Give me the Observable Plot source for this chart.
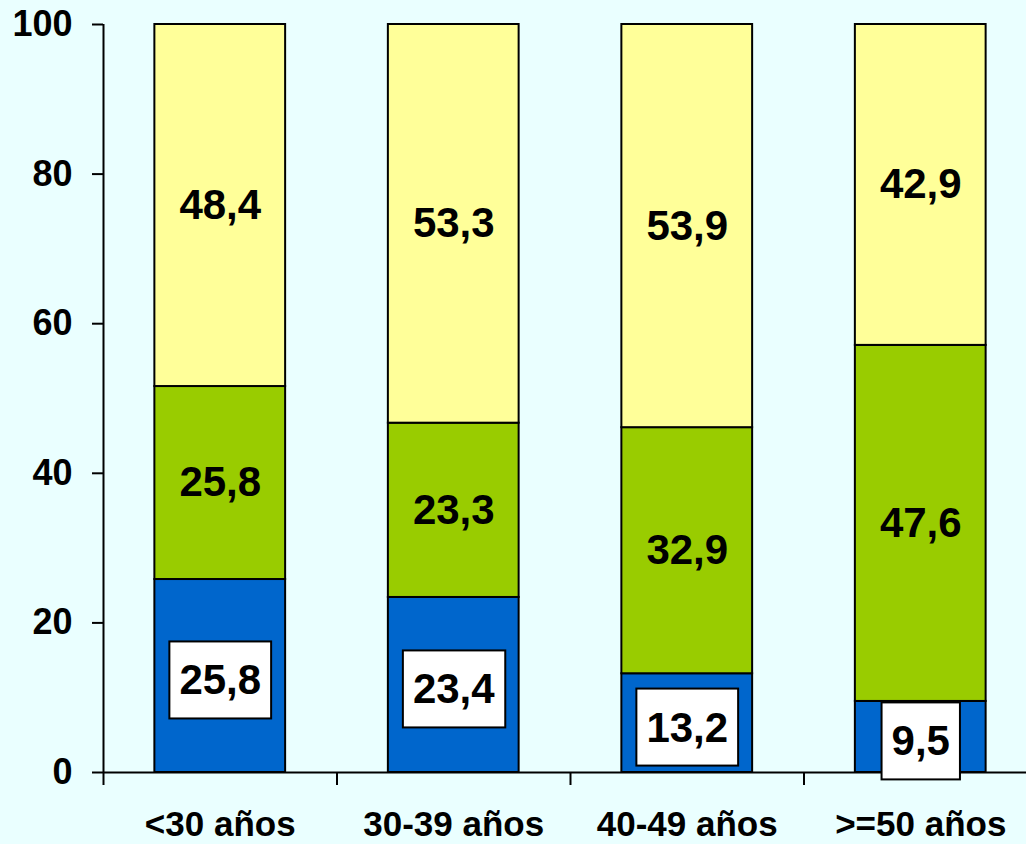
<!DOCTYPE html>
<html><head><meta charset="utf-8">
<script src="https://cdn.jsdelivr.net/npm/d3@7"></script>
<script src="https://cdn.jsdelivr.net/npm/@observablehq/plot@0.6"></script>
<style>html,body{margin:0;padding:0;background:#EAFFFF;overflow:hidden}</style>
</head><body><div id="chart"></div>
<script>
const categories = ["<30 años", "30-39 años", "40-49 años", ">=50 años"];
const blueValues = [25.8, 23.4, 13.2, 9.5];
const greenValues = [25.8, 23.3, 32.9, 47.6];
const yellowValues = [48.4, 53.3, 53.9, 42.9];
const seriesNames = ["Azul", "Verde", "Amarillo"];
const seriesColors = ["#0066CC", "#99CC00", "#FFFF99"];
const yTicks = [0, 20, 40, 60, 80, 100];

const seriesValues = [blueValues, greenValues, yellowValues];
const rows = [];
categories.forEach((c, i) => {
  let base = 0;
  seriesValues.forEach((vals, s) => {
    const v = vals[i];
    rows.push({cat: c, idx: i, series: seriesNames[s], value: v, y1: base, y2: base + v, mid: base + v / 2});
    base += v;
  });
});
const fmt = v => d3.format(".1f")(v).replace(".", ",");
const halfBar = 0.28;

const plot = Plot.plot({
  width: 1026, height: 844,
  marginTop: 24, marginBottom: 72, marginLeft: 103, marginRight: -11,
  style: {background: "#EAFFFF", fontFamily: "'Liberation Sans', Arial, sans-serif", fontWeight: "bold", color: "#000", overflow: "visible"},
  x: {domain: [0, categories.length], label: null},
  y: {domain: [0, 100], label: null},
  color: {domain: seriesNames, range: seriesColors},
  marks: [
    Plot.rect(rows, {x1: d => d.idx + 0.5 - halfBar, x2: d => d.idx + 0.5 + halfBar, y1: "y1", y2: "y2", fill: "series", stroke: "#000", strokeWidth: 2}),
    Plot.ruleY([0], {stroke: "#000", strokeWidth: 2}),
    Plot.ruleX([0], {y1: 0, y2: 100, stroke: "#000", strokeWidth: 2}),
    Plot.axisY({ticks: yTicks, tickSize: 11, tickPadding: 20, fontSize: 36, strokeWidth: 2, label: null}),
    Plot.axisX({ticks: d3.range(categories.length + 1), tickSize: 13, tickFormat: () => "", strokeWidth: 2, label: null}),
    Plot.axisX({ticks: categories.map((c, i) => i + 0.5), tickSize: 0, tickPadding: 39, tickFormat: v => categories[Math.floor(v)], fontSize: 35, label: null}),
    Plot.text(rows.filter(d => d.series !== "Azul"), {x: d => d.idx + 0.5, y: "mid", text: d => fmt(d.value), fontSize: 42, fontWeight: "bold", fill: "#000"}),
    Plot.text(rows.filter(d => d.series === "Azul"), {x: d => d.idx + 0.5, y: "mid", dy: 5, text: d => fmt(d.value), fontSize: 42, fontWeight: "bold", fill: "#000"})
  ]
});
document.getElementById("chart").appendChild(plot);
const ns = "http://www.w3.org/2000/svg";
const blueLabels = new Set(blueValues.map(fmt));
// the last group of text marks holds the boxed (blue-segment) labels
const textGroups = Array.from(plot.querySelectorAll("g")).filter(g => g.querySelector(":scope > text") && !g.getAttribute("aria-label")?.includes("tick"));
const lastGroup = textGroups[textGroups.length - 1];
lastGroup.querySelectorAll(":scope > text").forEach(t => {
  if (!blueLabels.has(t.textContent)) return;
  const b = t.getBBox();
  const r = document.createElementNS(ns, "rect");
  r.setAttribute("x", b.x - 10);
  r.setAttribute("y", b.y - 15);
  r.setAttribute("width", b.width + 20);
  r.setAttribute("height", b.height + 30);
  r.setAttribute("fill", "#fff");
  r.setAttribute("stroke", "#000");
  r.setAttribute("stroke-width", 2);
  if (t.getAttribute("transform")) r.setAttribute("transform", t.getAttribute("transform"));
  t.parentNode.insertBefore(r, t);
});
</script>
</body></html>
